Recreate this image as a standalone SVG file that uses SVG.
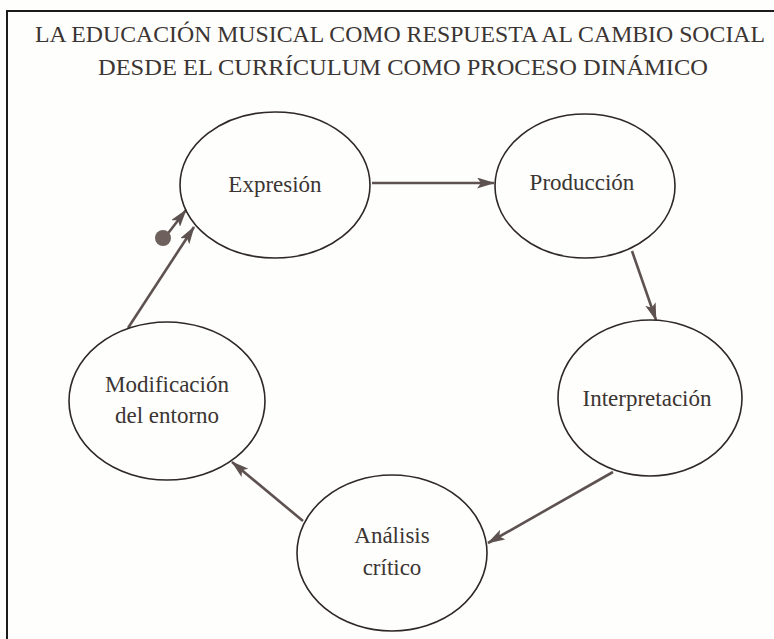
<svg xmlns="http://www.w3.org/2000/svg" width="774" height="639" viewBox="0 0 774 639">
<style>
.node ellipse{fill:none;stroke:#2e2826;stroke-width:1.6}
.lbl{font-family:'Liberation Serif','DejaVu Serif',serif;font-size:23px;fill:#3b3533;text-anchor:middle}
.title{font-family:'Liberation Serif','DejaVu Serif',serif;font-size:23px;fill:#3b3533;text-anchor:middle}
.conn line{stroke:#5e5250;stroke-width:2.6;fill:none}
</style>
<defs>
<marker id="ah" viewBox="0 0 18 11" refX="17" refY="5.5" markerWidth="18" markerHeight="11" markerUnits="userSpaceOnUse" orient="auto">
<path d="M0,0 L18,5.5 L0,11 L4,5.5 Z" fill="#5e5250"/>
</marker>
</defs>
<rect width="774" height="639" fill="#fefefc"/>
<path d="M7,639 V11 H774" fill="none" stroke="#1c1a1a" stroke-width="2"/>
<text class="title" x="400" y="42" textLength="730" lengthAdjust="spacingAndGlyphs">LA EDUCACIÓN MUSICAL COMO RESPUESTA AL CAMBIO SOCIAL</text>
<text class="title" x="403" y="75" textLength="610" lengthAdjust="spacingAndGlyphs">DESDE EL CURRÍCULUM COMO PROCESO DINÁMICO</text>
<g class="conn">
<line x1="372" y1="183" x2="494" y2="183" marker-end="url(#ah)"/>
<line x1="632" y1="251" x2="656" y2="320" marker-end="url(#ah)"/>
<line x1="613" y1="472" x2="488" y2="543" marker-end="url(#ah)"/>
<line x1="303" y1="521" x2="232" y2="462" marker-end="url(#ah)"/>
<line x1="128" y1="328" x2="194" y2="227" marker-end="url(#ah)"/>
<line x1="166" y1="236" x2="186" y2="210" marker-end="url(#ah)"/>
<circle cx="163" cy="238" r="8" fill="#6e605c"/>
</g>
<g id="expresion" class="node"><ellipse cx="275" cy="185" rx="95" ry="73"/><text class="lbl" x="275" y="192">Expresión</text></g>
<g id="produccion" class="node"><ellipse cx="585" cy="186" rx="90" ry="72"/><text class="lbl" x="582" y="190">Producción</text></g>
<g id="interpretacion" class="node"><ellipse cx="650" cy="398" rx="92" ry="78"/><text class="lbl" x="647" y="406">Interpretación</text></g>
<g id="analisis" class="node"><ellipse cx="392" cy="553" rx="95" ry="78"/><text class="lbl" x="392" y="543">Análisis</text><text class="lbl" x="392" y="575">crítico</text></g>
<g id="modificacion" class="node"><ellipse cx="167" cy="401" rx="98" ry="79"/><text class="lbl" x="167" y="392">Modificación</text><text class="lbl" x="167" y="423">del entorno</text></g>
</svg>
